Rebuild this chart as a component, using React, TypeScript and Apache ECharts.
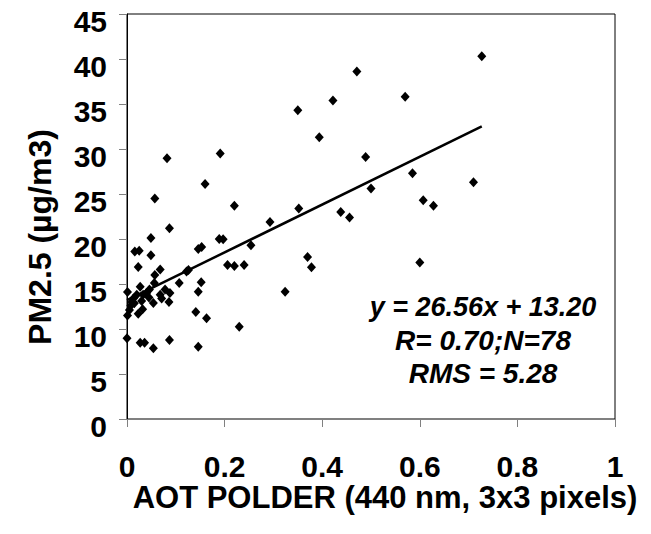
import React, { useEffect, useRef } from "react";
import * as echarts from "echarts";

const aot: number[] = [
  0.727, 0.471, 0.570, 0.422, 0.350, 0.394, 0.489, 0.585, 0.710, 0.500,
  0.607, 0.628, 0.352, 0.438, 0.456, 0.293, 0.254, 0.370, 0.378, 0.600,
  0.082, 0.191, 0.160, 0.057, 0.220, 0.087, 0.049, 0.189, 0.197, 0.146,
  0.153, 0.016, 0.025, 0.049, 0.023, 0.068, 0.126, 0.206, 0.220, 0.240,
  0.057, 0.122, 0.107, 0.152, 0.056, 0.001, 0.027, 0.046, 0.146, 0.078,
  0.088, 0.068, 0.013, 0.020, 0.033, 0.040, 0.010, 0.015, 0.071, 0.086,
  0.054, 0.005, 0.032, 0.023, 0.001, 0.141, 0.163, 0.230, 0.000, 0.027,
  0.036, 0.087, 0.054, 0.146, 0.324, 0.008, 0.030, 0.045,
];
const pm25: number[] = [
  40.3, 38.6, 35.8, 35.4, 34.3, 31.3, 29.1, 27.3, 26.3, 25.6,
  24.3, 23.7, 23.4, 23.0, 22.4, 21.9, 19.3, 18.0, 16.85, 17.4,
  28.96, 29.5, 26.1, 24.5, 23.7, 21.2, 20.1, 20.0, 19.96, 18.9,
  19.1, 18.6, 18.7, 18.2, 16.9, 16.6, 16.55, 17.1, 17.0, 17.1,
  16.0, 16.4, 15.1, 15.2, 15.1, 14.1, 14.7, 14.4, 14.15, 14.4,
  14.0, 13.8, 13.4, 13.8, 13.8, 14.0, 13.0, 12.85, 13.4, 13.0,
  12.9, 12.1, 12.2, 11.7, 11.5, 11.9, 11.2, 10.26, 8.96, 8.48,
  8.48, 8.78, 7.85, 8.04, 14.15, 12.6, 13.1, 13.5,
];
const slope = 26.56;
const intercept = 13.2;
const statLines: string[] = ["y = 26.56x + 13.20", "R= 0.70;N=78", "RMS = 5.28"];
const xTitle = "AOT POLDER (440 nm, 3x3 pixels)";
const yTitle = "PM2.5 (µg/m3)";

const FONT = "'Liberation Sans', Arial, sans-serif";

export default function App() {
  const ref = useRef<HTMLDivElement>(null);
  useEffect(() => {
    if (!ref.current) return;
    const chart = echarts.init(ref.current, undefined, { renderer: "svg" });
    const pts = aot.map((x, i) => [x, pm25[i]]);
    const xMin = Math.min(...aot);
    const xMax = Math.max(...aot);
    const fit = [
      [xMin, slope * xMin + intercept],
      [xMax, slope * xMax + intercept],
    ];
    chart.setOption({
      animation: false,
      backgroundColor: "#fff",
      grid: {
        left: 127,
        right: 36,
        top: 14,
        bottom: 115,
        show: true,
        borderColor: "#000",
        borderWidth: 1,
      },
      xAxis: {
        type: "value",
        min: 0,
        max: 1,
        interval: 0.2,
        splitLine: { show: false },
        axisLine: { lineStyle: { color: "#808080", width: 1 } },
        axisTick: { inside: false, length: 8, lineStyle: { color: "#808080" } },
        axisLabel: {
          margin: 32,
          color: "#000",
          fontFamily: FONT,
          fontWeight: "bold",
          fontSize: 30,
          formatter: (v: number) => String(+v.toFixed(1)),
        },
      },
      yAxis: {
        type: "value",
        min: 0,
        max: 45,
        interval: 5,
        splitLine: { show: false },
        axisLine: { show: true, lineStyle: { color: "#000", width: 1 } },
        axisTick: { show: true, inside: false, length: 8, lineStyle: { color: "#808080" } },
        axisLabel: {
          margin: 20,
          formatter: "{a|{value}}",
          rich: {
            a: {
              color: "#000",
              fontFamily: FONT,
              fontWeight: "bold",
              fontSize: 30,
              padding: [14, 0, 0, 0],
            },
          },
        },
      },
      graphic: [
        {
          type: "text",
          x: 385,
          y: 497,
          style: {
            text: xTitle,
            fontFamily: FONT,
            fontWeight: "bold",
            fontSize: 31,
            fill: "#000",
            align: "center",
            verticalAlign: "middle",
          },
        },
        {
          type: "text",
          x: 40,
          y: 237,
          rotation: Math.PI / 2,
          style: {
            text: yTitle,
            fontFamily: FONT,
            fontWeight: "bold",
            fontSize: 32,
            fill: "#000",
            align: "center",
            verticalAlign: "middle",
          },
        },
        ...statLines.map((t, i) => ({
          type: "text",
          x: 483,
          y: 307 + i * 33,
          style: {
            text: t,
            fontFamily: FONT,
            fontWeight: "bold",
            fontStyle: "italic",
            fontSize: i === 0 ? 27 : 28,
            fill: "#000",
            align: "center",
            verticalAlign: "middle",
          },
        })),
      ],
      series: [
        {
          type: "scatter",
          data: pts,
          symbol: "diamond",
          symbolSize: [9, 10],
          itemStyle: { color: "#000", opacity: 1 },
          z: 3,
        },
        {
          type: "line",
          data: fit,
          showSymbol: false,
          symbol: "none",
          lineStyle: { color: "#000", width: 2.5 },
          z: 2,
        },
      ],
    });
    return () => chart.dispose();
  }, []);
  return (
    <div
      ref={ref}
      style={{ position: "fixed", left: 0, top: 0, width: 651, height: 534 }}
    />
  );
}
